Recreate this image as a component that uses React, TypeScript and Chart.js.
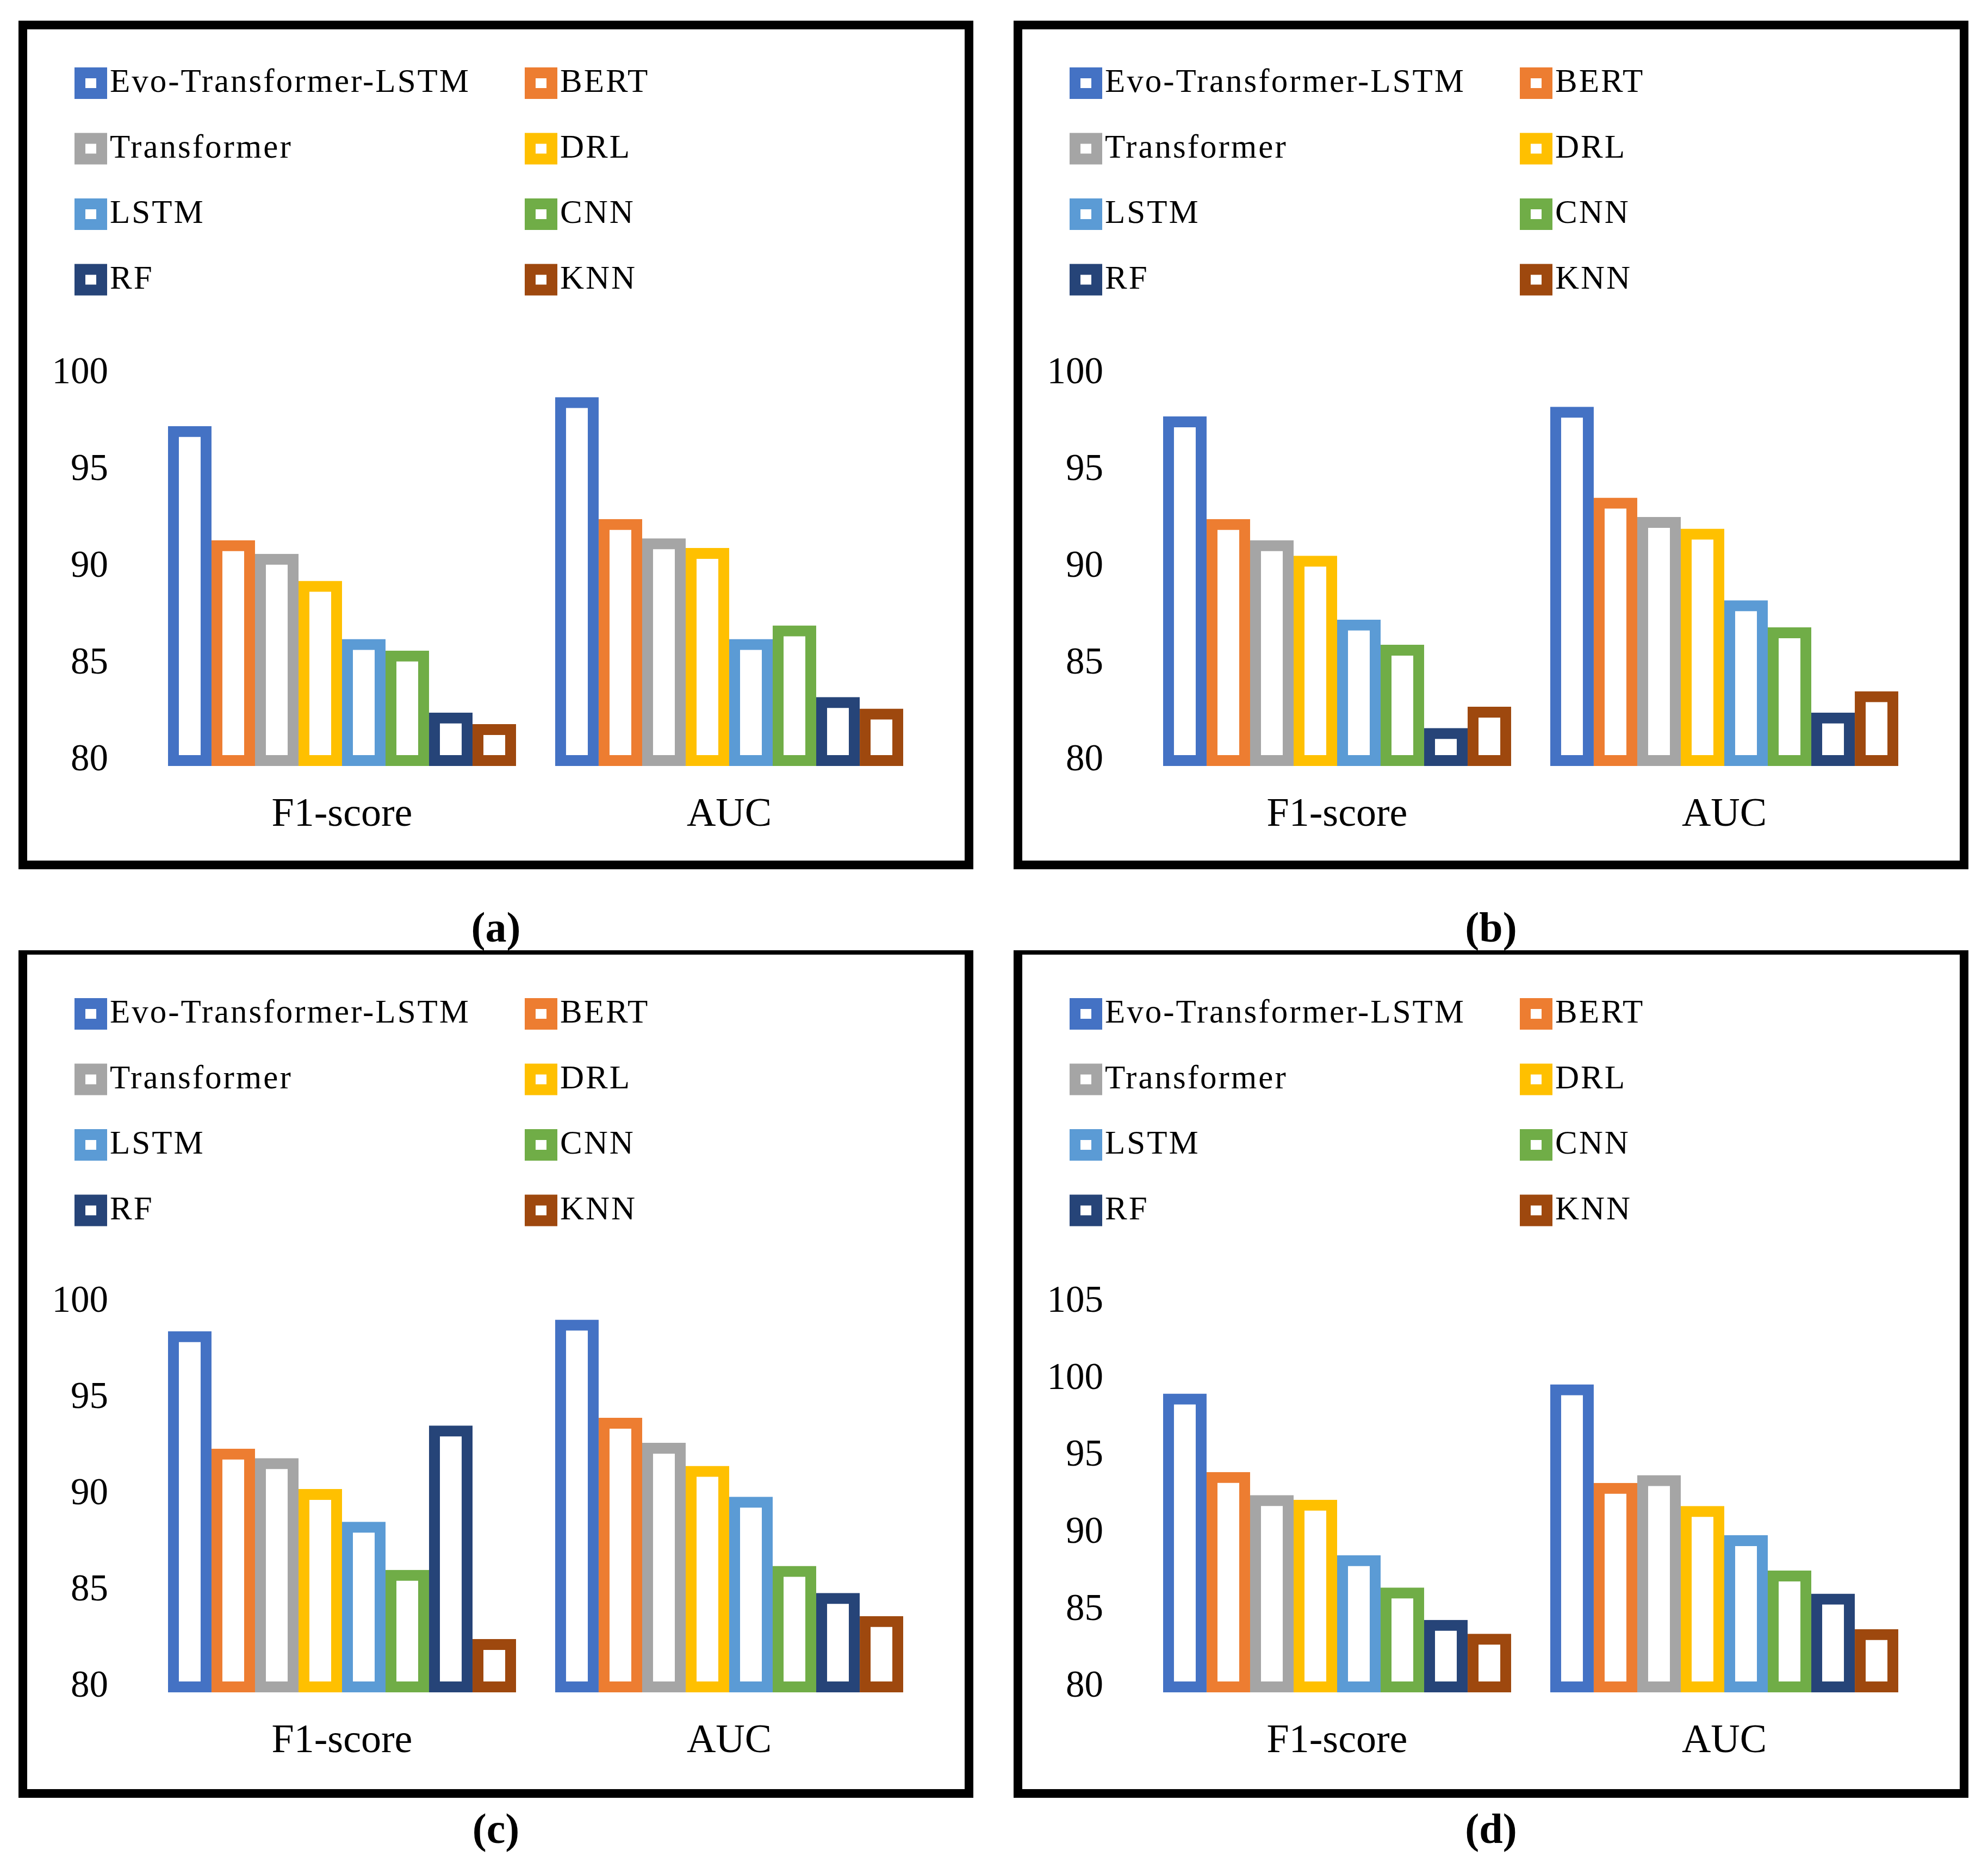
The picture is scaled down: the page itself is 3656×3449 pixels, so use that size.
import React, { useEffect, useRef } from "react";
import { Chart, registerables } from "chart.js";

Chart.register(...registerables);

const categories = ["F1-score", "AUC"];
const models = ["Evo-Transformer-LSTM", "BERT", "Transformer", "DRL", "LSTM", "CNN", "RF", "KNN"];
const colors = ["#4472C4", "#ED7D31", "#A5A5A5", "#FFC000", "#5B9BD5", "#70AD47", "#264478", "#9E480E"];

const f1A = [97.0, 91.1, 90.4, 89.0, 86.0, 85.4, 82.2, 81.6];
const aucA = [98.5, 92.2, 91.2, 90.7, 86.0, 86.7, 83.0, 82.4];
const f1B = [97.5, 92.2, 91.1, 90.3, 87.0, 85.7, 81.4, 82.5];
const aucB = [98.0, 93.3, 92.3, 91.7, 88.0, 86.6, 82.2, 83.3];
const f1C = [98.2, 92.1, 91.6, 90.0, 88.3, 85.8, 93.3, 82.2];
const aucC = [98.8, 93.7, 92.4, 91.2, 89.6, 86.0, 84.6, 83.4];
const f1D = [98.7, 93.6, 92.1, 91.8, 88.2, 86.1, 84.0, 83.1];
const aucD = [99.3, 92.9, 93.4, 91.4, 89.5, 87.2, 85.7, 83.4];

const yTicks100 = [80, 85, 90, 95, 100];
const yTicks105 = [80, 85, 90, 95, 100, 105];

const SERIF = '"Liberation Serif", "Times New Roman", serif';

type PanelCfg = {
  caption: string;
  left: number;
  top: number;
  width: number;
  height: number;
  topBorder: number;
  f1: number[];
  auc: number[];
  yTicks: number[];
  chartTop: number;
  chartBottom: number;
  legendTop: number;
  captionY: number;
};

const panels: PanelCfg[] = [
  { caption: "(a)", left: 34, top: 38, width: 1756, height: 1561, topBorder: 16, f1: f1A, auc: aucA, yTicks: yTicks100, chartTop: 649, chartBottom: 1361, legendTop: 115, captionY: 1713 },
  { caption: "(b)", left: 1864, top: 38, width: 1756, height: 1561, topBorder: 16, f1: f1B, auc: aucB, yTicks: yTicks100, chartTop: 649, chartBottom: 1361, legendTop: 115, captionY: 1713 },
  { caption: "(c)", left: 34, top: 1748, width: 1756, height: 1559, topBorder: 8, f1: f1C, auc: aucC, yTicks: yTicks100, chartTop: 647, chartBottom: 1355, legendTop: 117, captionY: 3371 },
  { caption: "(d)", left: 1864, top: 1748, width: 1756, height: 1559, topBorder: 8, f1: f1D, auc: aucD, yTicks: yTicks105, chartTop: 647, chartBottom: 1355, legendTop: 117, captionY: 3371 },
];

const gridLegend = {
  id: "gridLegend",
  afterDraw(chart: any, _args: any, opts: any) {
    const ctx = chart.ctx as CanvasRenderingContext2D;
    chart.data.datasets.forEach((ds: any, i: number) => {
      const col = i % 2;
      const row = Math.floor(i / 2);
      const x = opts.colX[col];
      const cy = opts.rowY0 + row * opts.rowGap;
      ctx.save();
      ctx.fillStyle = ds.borderColor;
      ctx.fillRect(x, cy - 29, 60, 58);
      ctx.fillStyle = "#FFFFFF";
      ctx.fillRect(x + 20, cy - 9, 20, 18);
      ctx.fillStyle = "#000000";
      ctx.font = `61px ${SERIF}`;
      ctx.textBaseline = "middle";
      ctx.textAlign = "left";
      (ctx as any).letterSpacing = "3px";
      ctx.fillText(ds.label, x + 65, cy);
      ctx.restore();
    });
  },
};

function Panel({ cfg }: { cfg: PanelCfg }) {
  const ref = useRef<HTMLCanvasElement | null>(null);
  useEffect(() => {
    if (!ref.current) return;
    const yMin = cfg.yTicks[0];
    const chart = new Chart(ref.current, {
      type: "bar",
      data: {
        labels: categories,
        datasets: models.map((m, i) => ({
          label: m,
          data: [cfg.f1[i], cfg.auc[i]],
          backgroundColor: "#FFFFFF",
          borderColor: colors[i],
          borderWidth: 20,
          borderSkipped: false,
          inflateAmount: 10,
          base: yMin,
          barPercentage: 0.75,
          categoryPercentage: 0.899,
          clip: false,
        })) as any,
      },
      options: {
        responsive: false,
        animation: false,
        events: [],
        layout: { padding: { top: cfg.chartTop, right: cfg.width - 1663, bottom: 0, left: 0 } },
        plugins: {
          legend: { display: false },
          tooltip: { enabled: false },
          gridLegend: { colX: [103, 931], rowY0: cfg.legendTop, rowGap: 120.5 },
        } as any,
        scales: {
          x: {
            grid: { display: false, drawTicks: false },
            border: { display: false },
            ticks: { color: "#000000", font: { family: SERIF, size: 74 }, padding: 56 },
            afterFit: (s: any) => {
              s.height = cfg.height - cfg.chartBottom;
            },
          },
          y: {
            min: yMin,
            max: cfg.yTicks[cfg.yTicks.length - 1],
            grid: { display: false, drawTicks: false },
            border: { display: false },
            ticks: { color: "#000000", font: { family: SERIF, size: 69 }, padding: 74 },
            afterBuildTicks: (s: any) => {
              s.ticks = cfg.yTicks.map((v) => ({ value: v }));
            },
            afterFit: (s: any) => {
              s.width = 239;
            },
          },
        } as any,
      },
      plugins: [gridLegend as any],
    });
    return () => chart.destroy();
  }, [cfg]);

  return (
    <>
      <canvas
        ref={ref}
        width={cfg.width}
        height={cfg.height}
        style={{ position: "absolute", left: cfg.left, top: cfg.top, width: cfg.width, height: cfg.height }}
      />
      <div
        style={{
          position: "absolute",
          left: cfg.left,
          top: cfg.top,
          width: cfg.width,
          height: cfg.height,
          boxSizing: "border-box",
          borderStyle: "solid",
          borderColor: "#000000",
          borderWidth: `${cfg.topBorder}px 16px 16px 16px`,
          pointerEvents: "none",
        }}
      />
      <div
        style={{
          position: "absolute",
          left: cfg.left,
          width: cfg.width,
          top: cfg.captionY - 57,
          height: 100,
          lineHeight: "100px",
          textAlign: "center",
          fontFamily: SERIF,
          fontWeight: "bold",
          fontSize: 78,
          color: "#000000",
        }}
      >
        {cfg.caption}
      </div>
    </>
  );
}

export default function App() {
  return (
    <div style={{ position: "absolute", left: 0, top: 0, width: 3656, height: 3449, background: "#FFFFFF", overflow: "hidden" }}>
      {panels.map((p) => (
        <Panel key={p.caption} cfg={p} />
      ))}
    </div>
  );
}
